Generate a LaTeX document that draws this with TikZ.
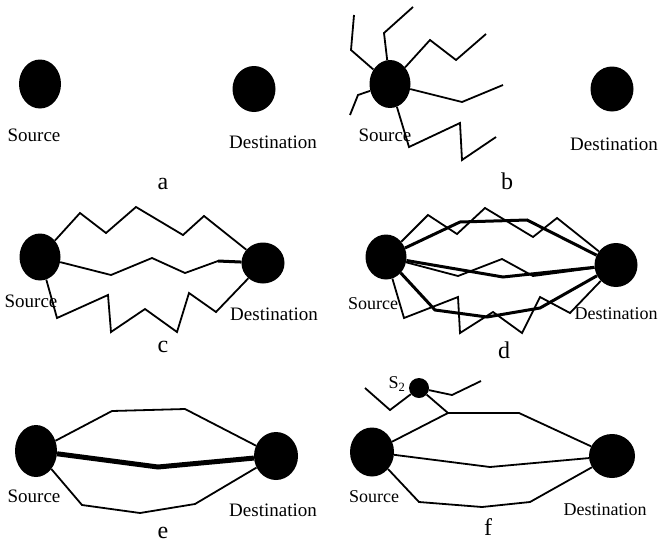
\documentclass[tikz,border=0pt]{standalone}
\usepackage{fontspec}
\setmainfont{Liberation Serif}
\usetikzlibrary{shapes.geometric}
\begin{document}
\begin{tikzpicture}[x=1pt,y=-1pt,
  dot/.style={ellipse,fill=black,draw=none,inner sep=0pt},
  wire/.style={line width=1.8pt,line join=miter},
  heavy/.style={line width=3pt,line join=miter},
  heavier/.style={line width=5pt,line join=miter},
  lbl/.style={font=\fontsize{19}{19}\selectfont,inner sep=0pt},
  lbls/.style={font=\fontsize{18}{18}\selectfont,inner sep=0pt},
  tag/.style={font=\fontsize{24}{24}\selectfont,inner sep=0pt}]
\useasboundingbox (0,0) rectangle (660,546);

% ---------- a: source and destination alone ----------
\node[dot,minimum width=42pt,minimum height=49pt] (aS) at (40,84) {};
\node[dot,minimum width=43pt,minimum height=46pt] (aD) at (254,89) {};
\node[lbl] (aSl) at (34,135) {Source};
\node[lbl] (aDl) at (273,142) {Destination};
\node[tag] (aT) at (163,184) {a};

% ---------- b: random walks leaving the source ----------
\node[dot,minimum width=41pt,minimum height=48pt] (bS) at (390,84) {};
\node[dot,minimum width=43pt,minimum height=45pt] (bD) at (612,89) {};
\node[lbl] (bSl) at (385,135) {Source};
\node[lbl] (bDl) at (614,144) {Destination};
\node[tag] (bT) at (507,181) {b};
\draw[wire] (bS) -- (351,50) -- (354,15);
\draw[wire] (bS) -- (384,33) -- (413,7);
\draw[wire] (bS) -- (430,40) -- (456,60) -- (486,34);
\draw[wire] (bS) -- (462,102) -- (503,85);
\draw[wire] (bS) -- (358,95) -- (350,115);
\draw[wire] (bS) -- (409,147) -- (460,123) -- (462,160) -- (496,137);

% ---------- c: three walks reaching the destination ----------
\node[dot,minimum width=41pt,minimum height=47pt] (cS) at (40,257) {};
\node[dot,minimum width=43pt,minimum height=41pt] (cD) at (263,263) {};
\node[lbl] (cSl) at (31,301) {Source};
\node[lbl] (cDl) at (274,314) {Destination};
\node[tag] (cT) at (163,347) {c};
\draw[wire] (cS) -- (80,213) -- (106,233) -- (136,207) -- (183,235) -- (204,216) -- (cD);
\draw[wire] (cS) -- (111,275) -- (152,258) -- (185,273) -- (218,261) coordinate (cM) -- (cD);
\draw[heavy] (cM) -- (cD);
\draw[wire] (cS) -- (57,318) -- (108,295) -- (111,332) -- (145,309) -- (177,332) -- (189,293) -- (216,312) -- (cD);

% ---------- d: walks and their straightened routes ----------
\node[dot,minimum width=41pt,minimum height=45pt] (dS) at (386,257) {};
\node[dot,minimum width=43pt,minimum height=44pt] (dD) at (616,265) {};
\node[lbls] (dSl) at (373,304) {Source};
\node[lbls] (dDl) at (616,314) {Destination};
\node[tag] (dT) at (504,350) {d};
\draw[wire] (dS) -- (428,215) -- (457,234) -- (485,208) -- (533,237) -- (557,218) -- (dD);
\draw[heavy] (dS) -- (460,222) -- (527,220) -- (dD);
\draw[wire] (dS) -- (458,276) -- (502,259) -- (533,276) -- (dD);
\draw[heavy] (dS) -- (503,277) -- (dD);
\draw[wire] (dS) -- (404,318) -- (458,297) -- (460,333) -- (493,312) -- (522,333) -- (540,297) -- (570,313) -- (dD);
\draw[heavy] (dS) -- (435,310) -- (487,317) -- (540,308) -- (dD);

% ---------- e: three routes, the shortest one emphasised ----------
\node[dot,minimum width=42pt,minimum height=52pt] (eS) at (36,451) {};
\node[dot,minimum width=44pt,minimum height=48pt] (eD) at (276,456) {};
\node[lbl] (eSl) at (34,496) {Source};
\node[lbl] (eDl) at (273,510) {Destination};
\node[tag] (eT) at (163,533) {e};
\draw[wire] (eS) -- (112,411) -- (185,409) -- (eD);
\draw[heavier] (eS) -- (158,467) -- (eD);
\draw[wire] (eS) -- (82,505) -- (140,513) -- (195,504) -- (eD);

% ---------- f: second source joining a route ----------
\node[dot,minimum width=44pt,minimum height=49pt] (fS) at (372,452) {};
\node[dot,minimum width=46pt,minimum height=44pt] (fD) at (612,456) {};
\node[dot,minimum width=20pt,minimum height=20pt] (fS2) at (419,388) {};
\node[font=\fontsize{18}{18}\selectfont,inner sep=0pt] (fS2l) at (397,384) {S\textsubscript{2}};
\node[lbls] (fSl) at (374,497) {Source};
\node[lbls] (fDl) at (605,510) {Destination};
\node[tag] (fT) at (488,527) {f};
\draw[wire] (365,388) -- (390,410) -- (fS2);
\draw[wire] (fS2) -- (452,395) -- (481,381);
\draw[wire] (fS2) -- (448,413) coordinate (fJ);
\draw[wire] (fS) -- (fJ) -- (519,413) -- (fD);
\draw[wire] (fS) -- (490,467) -- (fD);
\draw[wire] (fS) -- (419,502) -- (482,507) -- (530,502) -- (fD);
\end{tikzpicture}
\end{document}
